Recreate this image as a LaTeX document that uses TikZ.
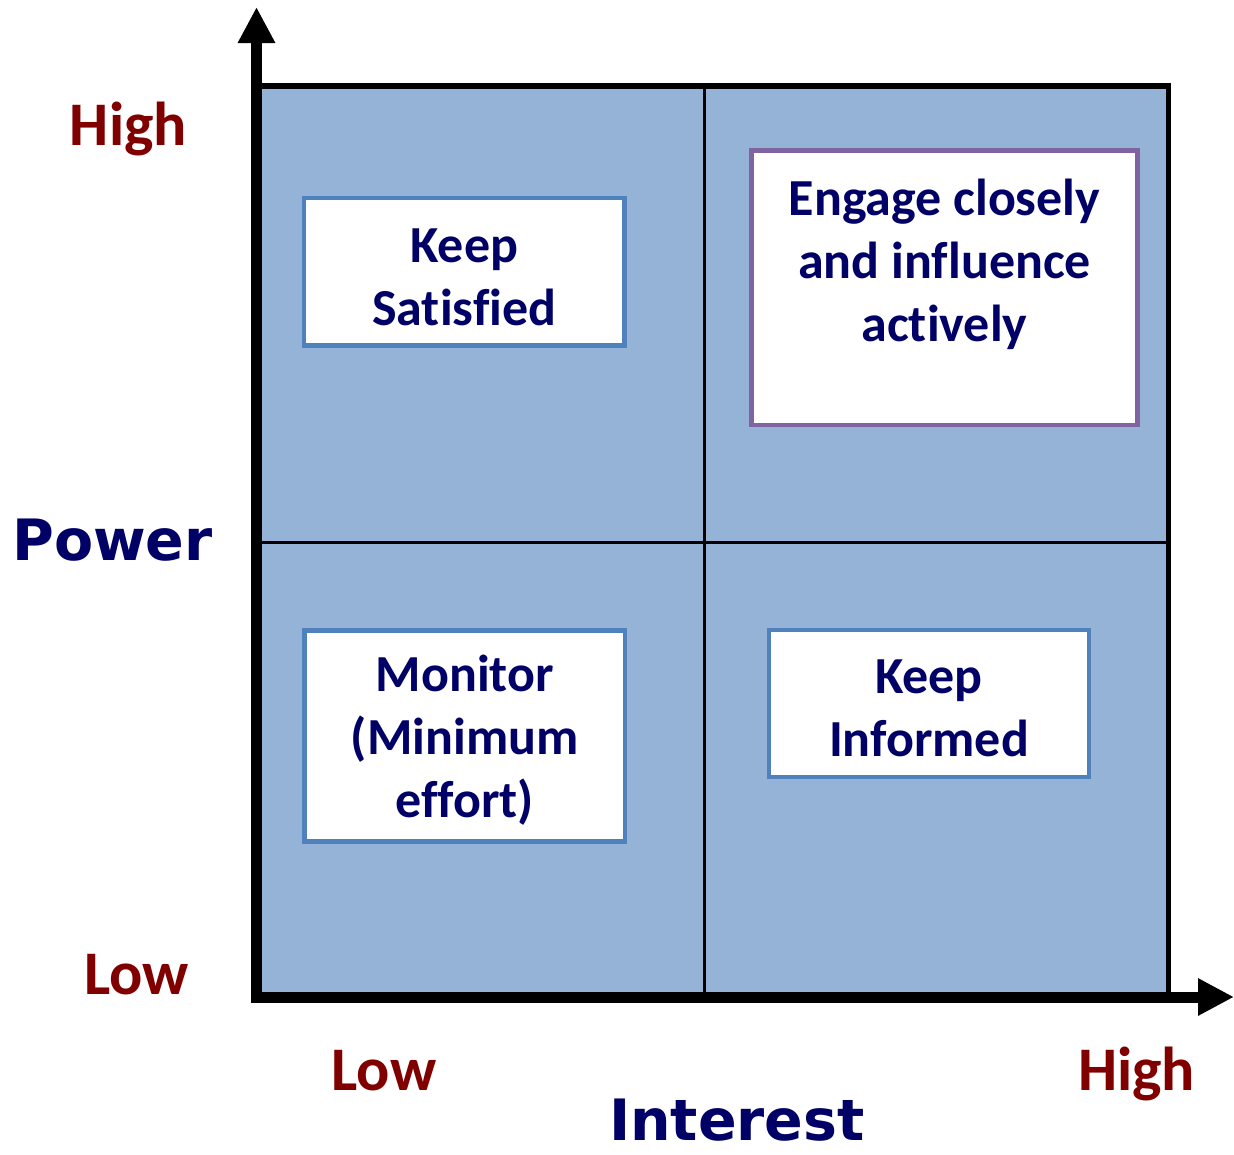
\documentclass[tikz,border=0pt]{standalone}
\usepackage{fontspec}
\setmainfont{Carlito}[Ligatures=CommonOff]
\newfontfamily\axisfont{DejaVu Sans}
\usetikzlibrary{arrows.meta}

\definecolor{gridblue}{HTML}{95B3D7}
\definecolor{boxblue}{HTML}{4F81BD}
\definecolor{boxpurple}{HTML}{8064A2}
\definecolor{navytext}{HTML}{000066}
\definecolor{levelred}{HTML}{800000}

\newcommand\boxstrut{\rule{0pt}{44pt}}

\begin{document}
\begin{tikzpicture}
      [x=1pt,y=-1pt,
      %%%%%%%%%%%%%%%%%%%%%%%%%%%%%%
      box/.style={rectangle,draw=boxblue,line width=4.5pt,fill=white,
        align=center,text=navytext,inner sep=0pt,
        font=\fontsize{52}{63}\selectfont\bfseries},
      level/.style={anchor=base,inner sep=0pt,text=levelred,font=\fontsize{62}{70}\selectfont\bfseries},
      axisname/.style={anchor=base,inner sep=0pt,text=navytext,font=\axisfont\fontsize{57}{64}\selectfont\bfseries},
      axis/.style={line width=11pt,-{Triangle[length=36pt,width=35pt]}},
      ]%%%%%%%%%%%%%%%%%%%%%%%%%%%%%%

      \useasboundingbox (0,0) rectangle (1234,1154);

      % grid
      \fill[gridblue] (256.5,86) rectangle (1168.5,997);
      \draw[line width=3pt] (704,86) -- (704,997);
      \draw[line width=3pt] (256.5,542.5) -- (1168.5,542.5);
      \draw[line width=5.5pt] (253,86) -- (1168.5,86) -- (1168.5,997);

      % axes
      \coordinate (origin) at (256.5,997);
      \coordinate (ytip) at (256.5,7);
      \coordinate (xtip) at (1234,997);
      \draw[axis] (origin) -- (ytip);
      \draw[axis] ([xshift=-5.5pt]origin) -- (xtip);

      % quadrants
      \node[box,minimum width=320.5pt,minimum height=147.5pt] (satisfied)
        at (464.25,271.75) {\boxstrut Keep\\Satisfied};
      \node[box,draw=boxpurple,minimum width=386pt,minimum height=274.5pt] (engage)
        at (944.5,287.75) {\boxstrut Engage closely\\and influence\\actively\\~};
      \node[box,minimum width=320.5pt,minimum height=211pt] (monitor)
        at (464.75,736) {\boxstrut Monitor\\(Minimum\\effort)};
      \node[box,minimum width=320pt,minimum height=147pt] (informed)
        at (929,703.5) {\boxstrut Keep\\Informed};

      % labels
      \node[level] (powhigh) at (128.5,145) {High};
      \node[level] (powlow) at (136.5,994) {Low};
      \node[level] (intlow) at (384,1090) {Low};
      \node[level] (inthigh) at (1136.5,1090) {High};
      \node[axisname] (power) at (112.5,560) {Power};
      \node[axisname] (interest) at (737,1140) {Interest};
    \end{tikzpicture}
\end{document}
